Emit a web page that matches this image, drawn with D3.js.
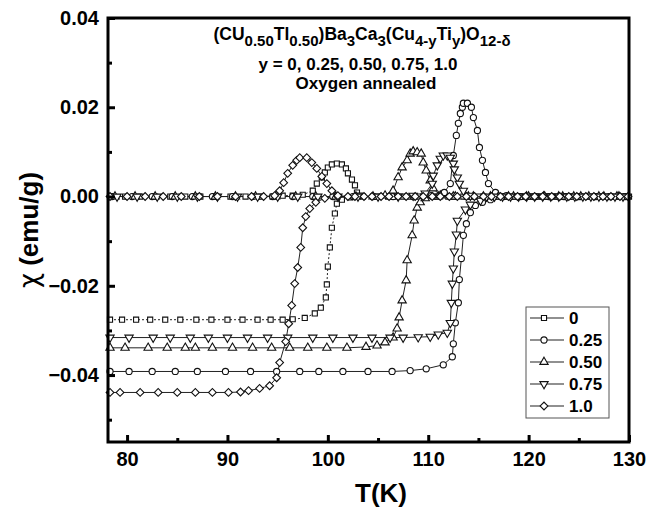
<!DOCTYPE html>
<html lang="en">
<head>
<meta charset="UTF-8">
<title>Susceptibility vs T</title>
<style>
    body { margin: 0; padding: 0; background: #fff; }
    svg { display: block; font-family: "Liberation Sans", Arial, sans-serif; }
    .tick text { font-weight: bold; font-size: 20px; fill: #000; }
</style>
</head>
<body>
<div id="chart"></div>
<script src="https://d3js.org/d3.v7.min.js"></script>
<script>
    // legend labels (Ti content y)
    const yLabels = ["0", "0.25", "0.50", "0.75", "1.0"];
    const xTicks = [80, 90, 100, 110, 120, 130];
    const yTicks = [0.04, 0.02, 0.00, -0.02, -0.04];

    // y = 0 (squares): real part and loss peak, [T, chi]
    const sqReal = [[78.3,-0.0276],[79.5,-0.0276],[80.9,-0.0276],[82.3,-0.0276],[83.8,-0.0276],[85.3,-0.0276],
        [86.9,-0.0276],[88.4,-0.0276],[90.0,-0.0276],[91.5,-0.0276],[93.0,-0.0276],[94.3,-0.0276],[95.5,-0.0276],
        [96.5,-0.0275],[97.7,-0.0272],[98.7,-0.0262],[99.3,-0.0249],[99.8,-0.0226],[99.9,-0.0197],[100.0,-0.0157],
        [100.2,-0.0114],[100.4,-0.0070],[100.7,-0.0038],[100.9,-0.0016],[101.4,-0.0007],[102.2,-0.0002],[103.5,0],
        [105.0,0],[106.5,0],[108.0,0],[109.5,0],[111.0,0],[112.5,0],[114.0,0],[115.5,0],[117.0,0],[118.5,0],
        [120.0,0],[121.5,0],[123.0,0],[124.5,0],[126.0,0],[127.5,0],[129.0,0]];
    const sqImag = [[78.3,0],[79.8,0],[81.3,0],[82.8,0],[84.3,0],[85.8,0],[87.3,0],[88.8,0],[90.3,0],[91.8,0],
        [93.3,0],[94.5,0],[95.5,0.0002],[96.5,0.0002],[97.5,0.0004],[98.5,0.0013],[98.9,0.0029],[99.4,0.0043],
        [99.7,0.0054],[100.0,0.0065],[100.4,0.0072],[100.9,0.0074],[101.4,0.0072],[101.8,0.0063],[102.0,0.0052],
        [102.4,0.0038],[102.7,0.0025],[102.9,0.0009],[103.2,0.0002],[104.5,0],[106.0,0],[107.5,0],[109.0,0],
        [110.5,0],[112.0,0],[113.5,0],[115.0,0],[116.5,0],[118.0,0],[119.5,0],[121.0,0],[122.5,0],[124.0,0],
        [125.5,0],[127.0,0],[128.5,0],[130.0,0]];

    // y = 0.25 (circles)
    const ciReal = [[78.3,-0.0392],[80.2,-0.0392],[82.5,-0.0392],[84.8,-0.0392],[87.0,-0.0392],[89.8,-0.0392],
        [92.3,-0.0392],[94.9,-0.0392],[97.2,-0.0392],[99.1,-0.0392],[101.5,-0.0392],[104.0,-0.0392],[106.4,-0.0392],
        [108.2,-0.0390],[109.8,-0.0386],[111.5,-0.0377],[112.4,-0.0359],[112.5,-0.0330],[112.7,-0.0283],
        [113.0,-0.0238],[113.1,-0.0186],[113.3,-0.0139],[113.5,-0.0087],[113.8,-0.0061],[114.2,-0.0036],
        [114.7,-0.0020],[115.4,-0.0013],[116.2,-0.0007],[117.5,0],[119.0,0],[120.5,0],[122.0,0],[123.5,0],
        [125.0,0],[126.5,0],[128.0,0],[129.5,0]];
    const ciImag = [[78.5,0],[80.5,0],[82.5,0],[84.5,0],[86.5,0],[88.5,0],[90.5,0],[92.5,0],[94.5,0],[96.5,0],
        [98.5,0],[100.5,0],[102.5,0],[104.5,0],[106.5,0],[108.5,0],[110.3,0.0002],[111.6,0.0009],[112.2,0.0029],
        [112.5,0.0092],[112.8,0.0137],[113.0,0.0164],[113.2,0.0186],[113.4,0.0200],[113.5,0.0209],[113.9,0.0209],
        [114.3,0.0200],[114.5,0.0177],[114.9,0.0148],[115.1,0.0110],[115.4,0.0081],[115.7,0.0054],[116.0,0.0029],
        [116.7,0.0009],[117.8,0.0002],[119.2,0],[120.7,0],[122.2,0],[123.7,0],[125.2,0],[126.7,0],[128.2,0],[129.7,0]];

    // y = 0.50 (up triangles)
    const upReal = [[78.3,-0.0339],[79.8,-0.0339],[82.1,-0.0339],[84.0,-0.0339],[85.8,-0.0339],[86.8,-0.0339],
        [88.5,-0.0339],[90.5,-0.0339],[92.5,-0.0339],[94.4,-0.0339],[96.2,-0.0339],[98.0,-0.0339],[99.9,-0.0339],
        [101.9,-0.0339],[103.8,-0.0337],[104.9,-0.0334],[105.7,-0.0327],[106.5,-0.0316],[106.9,-0.0296],
        [107.1,-0.0271],[107.4,-0.0233],[107.8,-0.0188],[107.9,-0.0143],[108.4,-0.0087],[108.6,-0.0054],
        [108.9,-0.0025],[109.2,-0.0013],[109.7,-0.0004],[111.0,0],[112.5,0],[114.0,0],[115.5,0],[117.0,0],
        [118.5,0],[120.0,0],[121.5,0],[123.0,0],[124.5,0],[126.0,0],[127.5,0],[129.0,0]];
    const upImag = [[78.8,0],[80.8,0],[82.8,0],[84.8,0],[86.8,0],[88.8,0],[90.8,0],[92.8,0],[94.8,0],[96.8,0],
        [98.8,0],[100.8,0],[102.8,0],[104.5,0],[105.7,0.0002],[106.5,0.0013],[107.0,0.0043],[107.4,0.0065],
        [107.9,0.0081],[108.2,0.0096],[108.5,0.0101],[108.9,0.0099],[109.3,0.0096],[109.5,0.0076],[109.8,0.0058],
        [110.2,0.0036],[110.5,0.0018],[111.2,0.0002],[112.7,0],[114.5,0],[116.2,0],[118.0,0],[119.8,0],[121.6,0],
        [123.4,0],[125.2,0],[127.0,0],[128.8,0]];

    // y = 0.75 (down triangles)
    const dnReal = [[78.3,-0.0316],[80.2,-0.0316],[82.6,-0.0316],[84.3,-0.0316],[86.3,-0.0316],[88.1,-0.0316],
        [90.0,-0.0316],[92.0,-0.0316],[94.0,-0.0316],[96.0,-0.0316],[98.5,-0.0316],[100.5,-0.0316],[102.5,-0.0316],
        [104.4,-0.0316],[106.2,-0.0316],[107.5,-0.0316],[109.0,-0.0315],[110.2,-0.0314],[111.0,-0.0309],
        [111.9,-0.0305],[112.2,-0.0283],[112.3,-0.0238],[112.4,-0.0195],[112.5,-0.0161],[112.6,-0.0123],
        [112.8,-0.0085],[112.9,-0.0054],[113.7,-0.0029],[114.2,-0.0018],[115.2,-0.0009],[116.6,0],[118.2,0],
        [119.8,0],[121.4,0],[123.0,0],[124.6,0],[126.2,0],[127.8,0],[129.4,0]];
    const dnImag = [[79.0,0],[81.0,0],[83.0,0],[85.0,0],[87.0,0],[89.0,0],[91.0,0],[93.0,0],[95.0,0],[97.0,0],
        [99.0,0],[101.0,0],[103.0,0],[105.0,0],[107.0,0],[108.5,0.0002],[109.7,0.0007],[110.4,0.0029],
        [110.5,0.0047],[110.9,0.0070],[111.2,0.0085],[111.5,0.0092],[111.9,0.0092],[112.2,0.0087],[112.5,0.0074],
        [112.6,0.0061],[112.9,0.0043],[113.1,0.0029],[113.5,0.0013],[114.2,0.0002],[115.8,0],[117.4,0],[119.0,0],
        [120.6,0],[122.2,0],[123.8,0],[125.4,0],[127.0,0],[128.6,0]];

    // y = 1.0 (diamonds)
    const diReal = [[78.3,-0.0439],[79.3,-0.0439],[81.3,-0.0439],[83.1,-0.0439],[85.0,-0.0439],[86.8,-0.0439],
        [88.5,-0.0439],[90.1,-0.0439],[91.3,-0.0438],[92.1,-0.0435],[93.2,-0.0430],[94.2,-0.0424],[94.9,-0.0406],
        [95.2,-0.0372],[95.8,-0.0325],[96.1,-0.0285],[96.4,-0.0244],[96.7,-0.0195],[97.0,-0.0159],[97.3,-0.0114],
        [97.5,-0.0070],[97.8,-0.0045],[98.2,-0.0027],[98.8,-0.0013],[99.7,-0.0004],[101.0,0],[102.7,0],[104.4,0],
        [106.1,0],[107.8,0],[109.5,0],[111.2,0],[112.9,0],[114.6,0],[116.3,0],[118.0,0],[119.7,0],[121.4,0],
        [123.1,0],[124.8,0],[126.5,0],[128.2,0],[129.9,0]];
    const diImag = [[78.3,0],[80.0,0],[81.8,0],[83.6,0],[85.4,0],[87.2,0],[89.0,0],[90.8,0],[92.4,0],[93.6,0],
        [94.7,0.0002],[95.2,0.0013],[95.6,0.0031],[96.0,0.0052],[96.5,0.0070],[96.9,0.0081],[97.2,0.0087],
        [97.9,0.0087],[98.4,0.0076],[98.9,0.0063],[99.4,0.0045],[99.9,0.0029],[100.4,0.0013],[101.0,0.0002],
        [102.0,0],[103.6,0],[105.3,0],[107.0,0],[108.7,0],[110.4,0],[112.1,0],[113.8,0],[115.5,0],[117.2,0],
        [118.9,0],[120.6,0],[122.3,0],[124.0,0],[125.7,0],[127.4,0],[129.1,0]];

    const width = 656, height = 508;
    const margin = { top: 18, right: 27, bottom: 66, left: 108 };

    const svg = d3.select("#chart").append("svg")
        .attr("width", width)
        .attr("height", height);

    const x = d3.scaleLinear().domain([78.1, 130]).range([margin.left, width - margin.right]);
    const y = d3.scaleLinear().domain([-0.055, 0.04]).range([height - margin.bottom, margin.top]);

    // marker shapes
    const symSquare = d3.symbol().type(d3.symbolSquare).size(26)();
    const symCircle = d3.symbol().type(d3.symbolCircle).size(30)();
    const symTri = d3.symbol().type(d3.symbolTriangle).size(30)();
    const symDiamond = d3.symbol().type(d3.symbolSquare).size(30)();

    const series = [
        { label: yLabels[0], parts: [sqReal, sqImag], path: symSquare, rot: 0, dash: "2,2" },
        { label: yLabels[1], parts: [ciReal, ciImag], path: symCircle, rot: 0, dash: null },
        { label: yLabels[2], parts: [upReal, upImag], path: symTri, rot: 0, dash: null },
        { label: yLabels[3], parts: [dnReal, dnImag], path: symTri, rot: 180, dash: null },
        { label: yLabels[4], parts: [diReal, diImag], path: symDiamond, rot: 45, dash: null }
    ];

    const line = d3.line().x(d => x(d[0])).y(d => y(d[1]));

    const plot = svg.append("g");
    series.forEach(s => {
        s.parts.forEach(part => {
            plot.append("path")
                .datum(part)
                .attr("d", line)
                .attr("fill", "none")
                .attr("stroke", "#222")
                .attr("stroke-width", 1)
                .attr("stroke-dasharray", s.dash);
        });
    });
    series.forEach(s => {
        s.parts.forEach(part => {
            plot.append("g").selectAll("path")
                .data(part)
                .enter().append("path")
                .attr("d", s.path)
                .attr("transform", d => `translate(${x(d[0])},${y(d[1])}) rotate(${s.rot})`)
                .attr("fill", "#fff")
                .attr("stroke", "#111")
                .attr("stroke-width", 1.1);
        });
    });

    // axes: major ticks inward, minor ticks as short stubs
    svg.append("g")
        .attr("transform", `translate(0,${height - margin.bottom})`)
        .call(d3.axisBottom(x).tickValues(xTicks).tickSize(-7).tickPadding(10).tickFormat(d3.format("d")));
    svg.append("g")
        .attr("transform", `translate(0,${height - margin.bottom})`)
        .call(d3.axisBottom(x).tickValues([85, 95, 105, 115, 125]).tickSize(-4).tickFormat(""));

    svg.append("g")
        .attr("transform", `translate(${margin.left},0)`)
        .call(d3.axisLeft(y).tickValues(yTicks).tickSize(-7).tickPadding(9).tickFormat(d3.format(".2f")));
    svg.append("g")
        .attr("transform", `translate(${margin.left},0)`)
        .call(d3.axisLeft(y).tickValues([0.03, 0.01, -0.01, -0.03, -0.05]).tickSize(-4).tickFormat(""));

    svg.selectAll(".domain").remove();
    svg.selectAll(".tick line").attr("stroke", "#000").attr("stroke-width", 3);

    // frame
    svg.append("rect")
        .attr("x", margin.left)
        .attr("y", margin.top)
        .attr("width", width - margin.left - margin.right)
        .attr("height", height - margin.top - margin.bottom)
        .attr("fill", "none")
        .attr("stroke", "#000")
        .attr("stroke-width", 3);

    // axis titles
    svg.append("text")
        .attr("x", 381)
        .attr("y", 502)
        .attr("text-anchor", "middle")
        .style("font-size", "26px")
        .style("font-weight", "bold")
        .text("T(K)");

    const yTitle = svg.append("text")
        .attr("transform", "translate(38,230) rotate(-90)")
        .attr("text-anchor", "middle")
        .style("font-size", "26px")
        .style("font-weight", "bold");
    yTitle.append("tspan")
        .style("font-family", "'DejaVu Sans', sans-serif")
        .style("font-weight", "normal")
        .text("χ");
    yTitle.append("tspan").text(" (emu/g)");

    // compound annotation
    const title = svg.append("text")
        .attr("x", 362)
        .attr("y", 40)
        .attr("text-anchor", "middle")
        .style("font-size", "17.5px")
        .style("font-weight", "bold");
    const pieces = [["(CU", 0], ["0.50", 1], ["Tl", 0], ["0.50", 1], [")Ba", 0], ["3", 1], ["Ca", 0], ["3", 1],
        ["(Cu", 0], ["4-y", 1], ["Ti", 0], ["y", 1], [")O", 0], ["12-δ", 1]];
    let shifted = false;
    pieces.forEach(([t, sub]) => {
        const ts = title.append("tspan").text(t);
        if (sub && !shifted) { ts.attr("dy", 6).style("font-size", "15px"); shifted = true; }
        else if (sub) { ts.style("font-size", "15px"); }
        else if (shifted) { ts.attr("dy", -6); shifted = false; }
    });

    svg.append("text")
        .attr("x", 358).attr("y", 70)
        .attr("text-anchor", "middle")
        .style("font-size", "17px").style("font-weight", "bold")
        .text("y = 0, 0.25, 0.50, 0.75, 1.0");
    svg.append("text")
        .attr("x", 366).attr("y", 89)
        .attr("text-anchor", "middle")
        .style("font-size", "17px").style("font-weight", "bold")
        .text("Oxygen annealed");

    // legend
    const legend = svg.append("g");
    legend.append("rect")
        .attr("x", 526).attr("y", 307)
        .attr("width", 83).attr("height", 111)
        .attr("fill", "#fff")
        .attr("stroke", "#555")
        .attr("stroke-width", 1);
    series.forEach((s, i) => {
        const cy = 318 + i * 22;
        legend.append("line")
            .attr("x1", 530).attr("x2", 564)
            .attr("y1", cy).attr("y2", cy)
            .attr("stroke", "#222").attr("stroke-width", 1.2);
        legend.append("path")
            .attr("d", s.path)
            .attr("transform", `translate(544,${cy}) rotate(${s.rot})`)
            .attr("fill", "#fff")
            .attr("stroke", "#111")
            .attr("stroke-width", 1.1);
        legend.append("text")
            .attr("x", 569).attr("y", cy + 6)
            .style("font-size", "17px").style("font-weight", "bold")
            .text(s.label);
    });
</script>
</body>
</html>
